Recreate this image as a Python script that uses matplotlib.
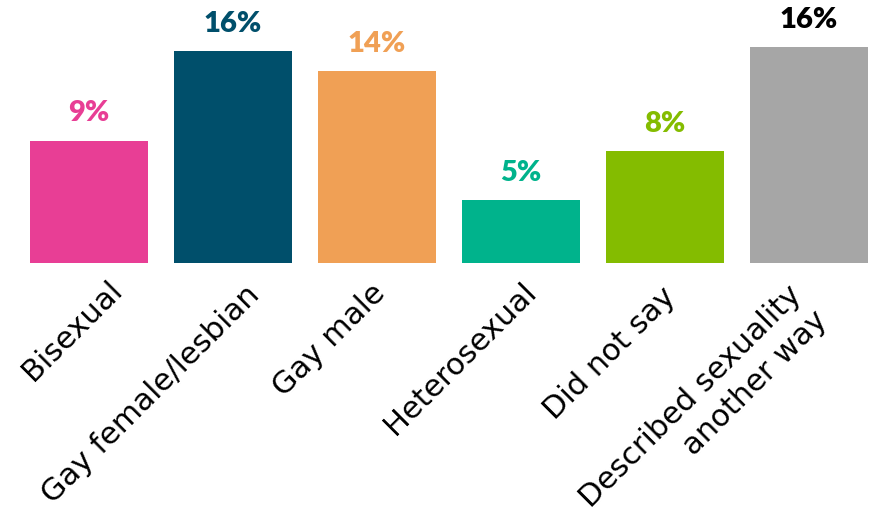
import matplotlib.pyplot as plt

# categories and values (percent)
categories = ['Bisexual', 'Gay female/lesbian', 'Gay male', 'Heterosexual',
              'Did not say', 'Described sexuality\nanother way']
values = [9.2, 15.9, 14.4, 4.7, 8.4, 16.2]
bar_colors = ['#E83E95', '#004F6B', '#F0A055', '#00B38C', '#84BC00', '#A6A6A6']
label_colors = ['#E83E95', '#004F6B', '#F0A055', '#00B38C', '#84BC00', '#000000']

# where each rotated label ends, offset from the bar centre (pixels)
label_dx = [35, 28, 10, 17, 12, -6]
label_dy = [-28, -33, -32, -30, -35, -33]

fig = plt.figure(figsize=(8.75, 5.2), dpi=100)
ax = fig.add_axes([0, 257 / 520, 1, 263 / 520])

x = range(len(categories))
ax.bar(x, values, width=0.82, color=bar_colors)
ax.set_xlim(-0.618, 5.458)
ax.set_ylim(0, 19.77)

for i, v in enumerate(values):
    ax.annotate(f'{v:.0f}%', xy=(i, v), xytext=(0, 14), textcoords='offset points',
                ha='center', va='baseline', fontsize=21, fontweight='heavy',
                family='Lato', color=label_colors[i])

# rotated labels, one text per line so the boxes stay tight
for i, cat in enumerate(categories):
    for j, line in enumerate(cat.split('\n')):
        dx = (label_dx[i] + j * 26) * 0.72
        dy = (label_dy[i] - j * 26) * 0.72
        ax.annotate(line, xy=(i, 0), xytext=(dx, dy),
                    textcoords='offset points', ha='right', va='baseline',
                    rotation=45, rotation_mode='anchor',
                    fontsize=22, family='DejaVu Sans', color='black',
                    annotation_clip=False)

ax.axis('off')
fig.savefig('out.png', dpi=100, facecolor='white')
